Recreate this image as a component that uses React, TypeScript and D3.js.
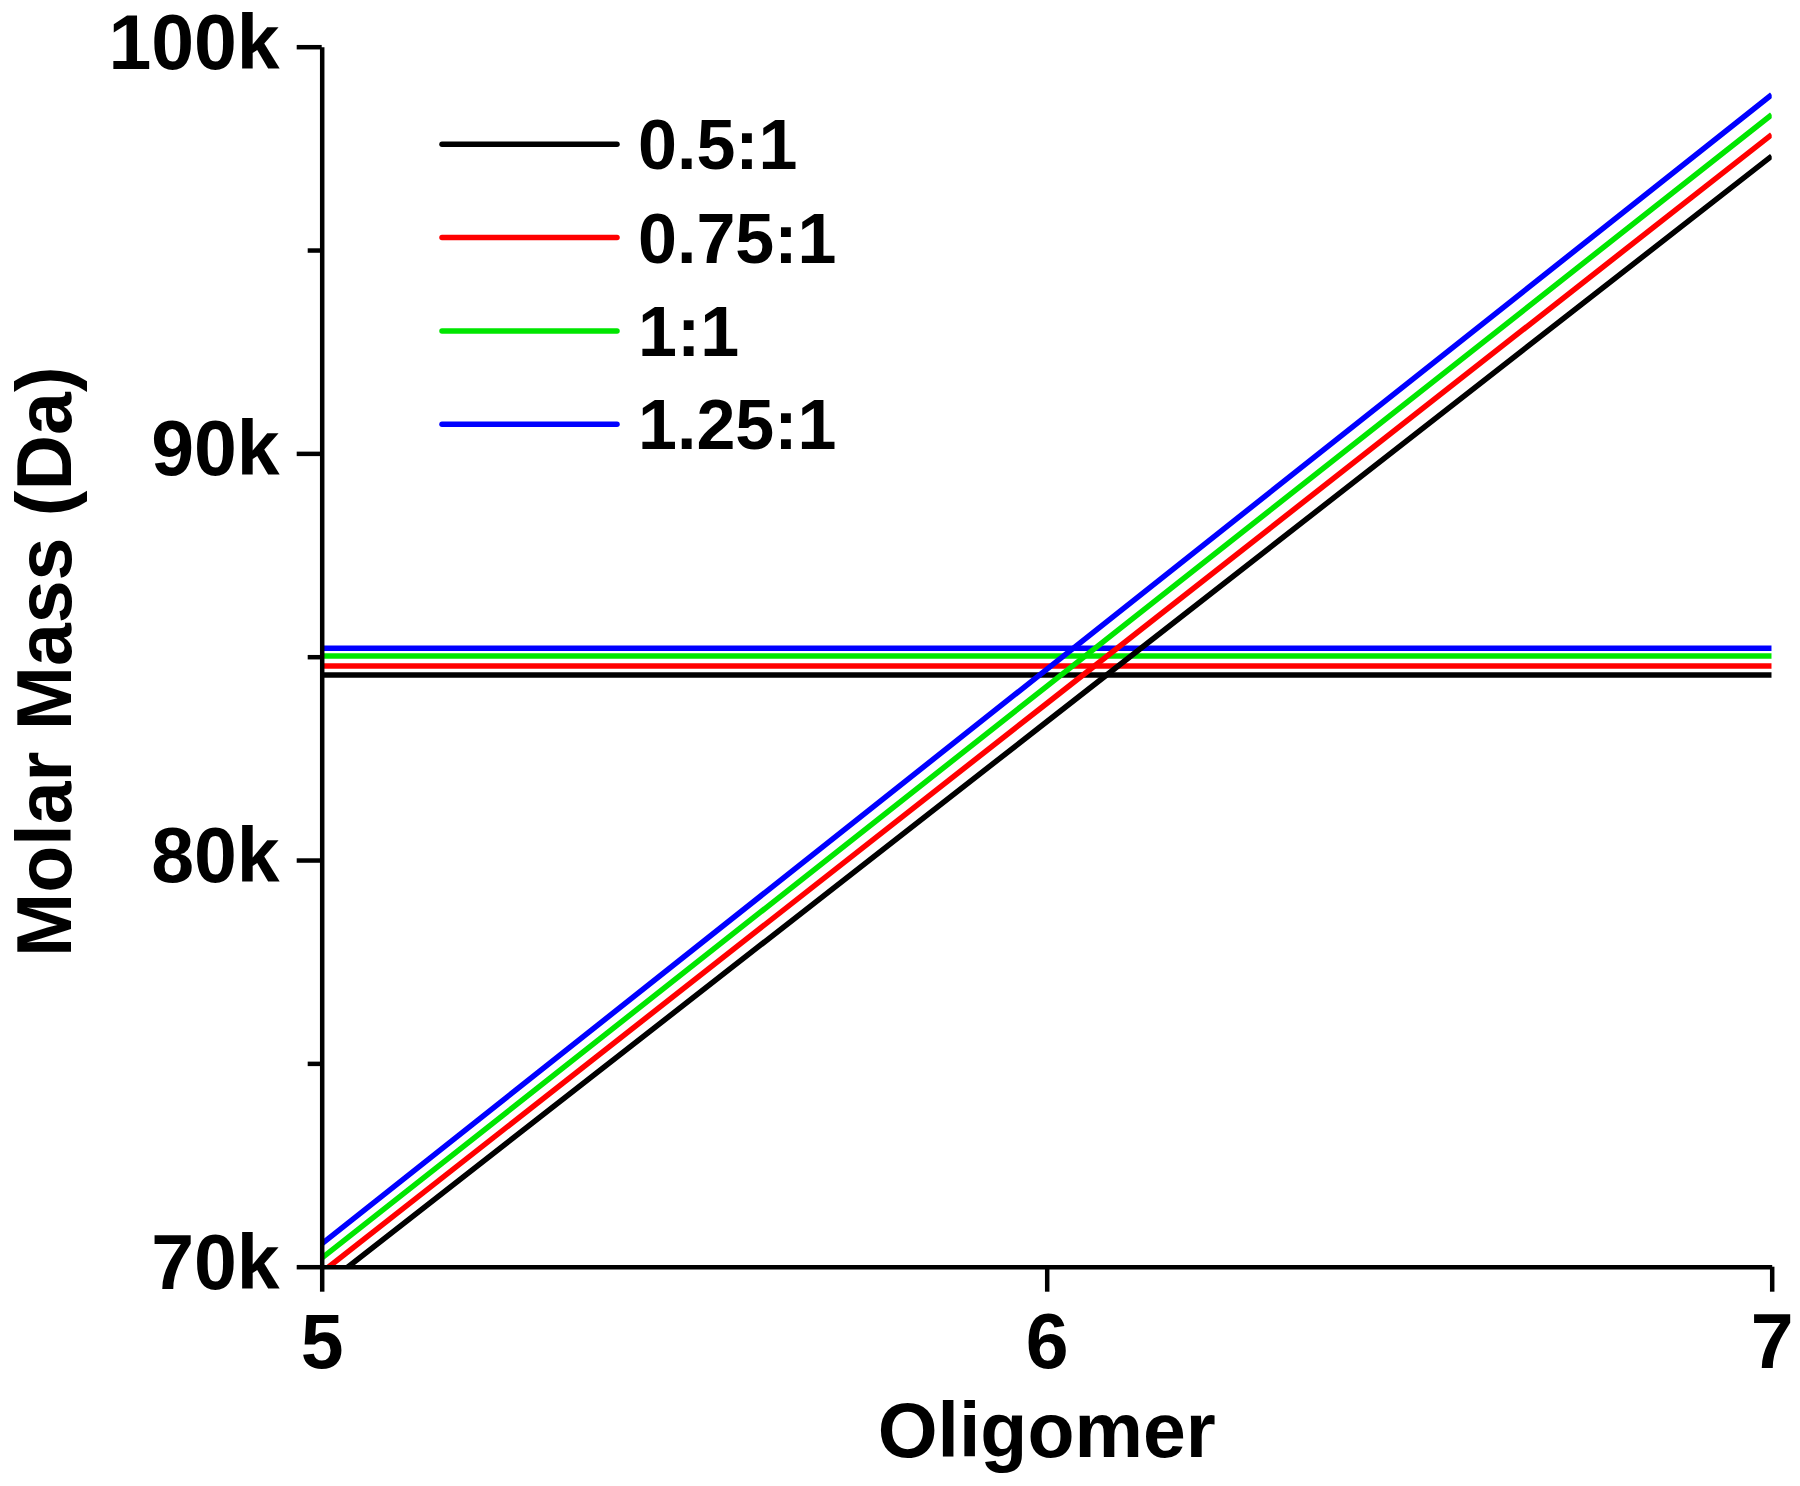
import React, { useEffect, useRef } from 'react';
import * as d3 from 'd3';

// oligomer number along x
const oligomers = [5, 6, 7];
const ratios = ['0.5:1', '0.75:1', '1:1', '1.25:1'];
const colors = ['#000000', '#ff0000', '#00e600', '#0000ff'];

// molar mass of each oligomer (Da), one array per ratio
const massBlack = [69490, 83400, 97310];
const massRed = [69860, 83850, 97840];
const massGreen = [70210, 84270, 98330];
const massBlue = [70560, 84690, 98820];

// measured molar mass (Da), flat across oligomers
const measured = [84550, 84770, 85020, 85210];

const yMajor = [70000, 80000, 90000, 100000];
const yMinor = [75000, 85000, 95000];
const xMajor = [5, 6, 7];

const W = 1800;
const H = 1486;
const FONT = '"Liberation Sans", Arial, sans-serif';

const App = () => {
  const ref = useRef<SVGSVGElement>(null);

  useEffect(() => {
    const svg = d3.select(ref.current);
    svg.selectAll('*').remove();

    const x = d3.scaleLinear().domain([5, 7]).range([321.7, 1771.7]);
    const y = d3.scaleLinear().domain([70000, 100000]).range([1266.7, 46.7]);

    svg.append('defs').append('clipPath').attr('id', 'plot')
      .append('rect')
      .attr('x', x(5)).attr('y', y(100000))
      .attr('width', x(7) - x(5)).attr('height', y(70000) - y(100000));

    const series = [massBlack, massRed, massGreen, massBlue];
    const line = d3.line<number>()
      .x((_, i) => x(oligomers[i]))
      .y((d) => y(d));

    const plot = svg.append('g').attr('clip-path', 'url(#plot)');

    // horizontal measured lines
    measured.forEach((m, i) => {
      plot.append('path')
        .attr('d', line([m, m, m]))
        .attr('fill', 'none')
        .attr('stroke', colors[i])
        .attr('stroke-width', 5.5);
    });

    // oligomer mass lines
    series.forEach((s, i) => {
      plot.append('path')
        .attr('d', line(s))
        .attr('fill', 'none')
        .attr('stroke', colors[i])
        .attr('stroke-width', 5.5);
    });

    // y axis
    const yAxis = svg.append('g')
      .attr('transform', `translate(${x(5)},0)`)
      .call(d3.axisLeft(y).tickValues(yMajor).tickSize(25).tickSizeOuter(0)
        .tickPadding(17).tickFormat((d) => `${+d / 1000}k`));
    svg.append('g')
      .attr('transform', `translate(${x(5)},0)`)
      .call(d3.axisLeft(y).tickValues(yMinor).tickSize(14).tickFormat(() => ''))
      .call((g) => g.select('.domain').remove())
      .selectAll('line').attr('stroke-width', 4.5);

    // x axis
    const xAxis = svg.append('g')
      .attr('transform', `translate(0,${y(70000)})`)
      .call(d3.axisBottom(x).tickValues(xMajor).tickSize(25).tickSizeOuter(0)
        .tickPadding(22).tickFormat(d3.format('d')));

    [yAxis, xAxis].forEach((g) => {
      g.select('.domain').attr('stroke-width', 4.5).attr('stroke', '#000');
      g.selectAll('line').attr('stroke-width', 4.5).attr('stroke', '#000');
      g.selectAll('text')
        .attr('font-family', FONT)
        .attr('font-weight', 'bold')
        .attr('font-size', 77)
        .attr('fill', '#000');
    });
    yAxis.selectAll('text').attr('dy', '0.28em');

    // axis titles
    svg.append('text')
      .attr('x', (x(5) + x(7)) / 2)
      .attr('y', 1457)
      .attr('text-anchor', 'middle')
      .attr('font-family', FONT).attr('font-weight', 'bold').attr('font-size', 77)
      .text('Oligomer');
    svg.append('text')
      .attr('transform', `translate(71,${(y(70000) + y(100000)) / 2 + 5}) rotate(-90)`)
      .attr('text-anchor', 'middle')
      .attr('font-family', FONT).attr('font-weight', 'bold').attr('font-size', 77)
      .text('Molar Mass (Da)');

    // legend
    const legend = svg.append('g');
    ratios.forEach((r, i) => {
      const ly = 144.3 + i * 93.3;
      legend.append('line')
        .attr('x1', 442).attr('x2', 617)
        .attr('y1', ly).attr('y2', ly)
        .attr('stroke', colors[i])
        .attr('stroke-width', 5.5)
        .attr('stroke-linecap', 'round');
      legend.append('text')
        .attr('x', 638).attr('y', ly + 25)
        .attr('font-family', FONT).attr('font-weight', 'bold').attr('font-size', 70)
        .text(r);
    });
  }, []);

  return (
    <svg
      ref={ref}
      width={W}
      height={H}
      style={{ position: 'absolute', left: 0, top: 0, background: '#fff' }}
    />
  );
};

export default App;
